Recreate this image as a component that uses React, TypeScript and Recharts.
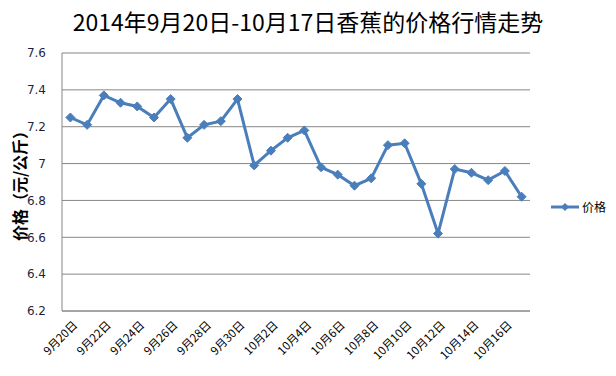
import React from "react";
import { LineChart, Line, XAxis, YAxis, CartesianGrid, Label } from "recharts";

// 日期（每天一个点）
const dates = [
  "9月20日", "9月21日", "9月22日", "9月23日", "9月24日", "9月25日", "9月26日",
  "9月27日", "9月28日", "9月29日", "9月30日", "10月1日", "10月2日", "10月3日",
  "10月4日", "10月5日", "10月6日", "10月7日", "10月8日", "10月9日", "10月10日",
  "10月11日", "10月12日", "10月13日", "10月14日", "10月15日", "10月16日", "10月17日",
];

// 香蕉价格（元/公斤）
const prices = [
  7.25, 7.21, 7.37, 7.33, 7.31, 7.25, 7.35, 7.14, 7.21, 7.23, 7.35, 6.99, 7.07, 7.14,
  7.18, 6.98, 6.94, 6.88, 6.92, 7.1, 7.11, 6.89, 6.62, 6.97, 6.95, 6.91, 6.96, 6.82,
];

const yTicks = [6.2, 6.4, 6.6, 6.8, 7, 7.2, 7.4, 7.6];

const BLUE = "#4a7ebb";
const GRID = "#868686";
const FONT = "'Noto Sans CJK SC', 'DejaVu Sans', sans-serif";

const data = dates.map((d, i) => ({ date: d, price: prices[i] }));

const Diamond = (props: any) => {
  const { cx, cy } = props;
  if (cx == null || cy == null) return null;
  const r = 4.5;
  return (
    <path
      d={`M${cx},${cy - r}L${cx + r},${cy}L${cx},${cy + r}L${cx - r},${cy}Z`}
      fill={BLUE}
      stroke={BLUE}
      strokeWidth={1}
    />
  );
};

const XTick = (props: any) => {
  const { x, y, payload } = props;
  return (
    <g transform={`translate(${x + 5},${y + 4})`}>
      <text
        textAnchor="end"
        transform="rotate(-45)"
        fontSize={11.5}
        fontFamily={FONT}
        fill="#000"
        dy={4}
      >
        {payload.value}
      </text>
    </g>
  );
};

export default function App() {
  return (
    <div style={{ position: "absolute", left: 0, top: 0, width: 616, height: 376, background: "#fff" }}>
      <div
        style={{
          position: "absolute",
          top: 5,
          left: 0,
          width: 616,
          textAlign: "center",
          fontFamily: FONT,
          fontSize: 23,
          lineHeight: "32px",
          color: "#000",
        }}
      >
        2014年9月20日-10月17日香蕉的价格行情走势
      </div>
      <LineChart
        width={616}
        height={376}
        data={data}
        margin={{ top: 53, right: 86, bottom: 0, left: 0 }}
      >
        <CartesianGrid vertical={false} stroke={GRID} strokeWidth={1} />
        <XAxis
          dataKey="date"
          interval={1}
          stroke={GRID}
          tickLine={false}
          tick={<XTick />}
          height={65}
          padding={{ left: 8.4, right: 8.4 }}
        />
        <YAxis
          domain={[6.2, 7.6]}
          ticks={yTicks}
          width={62}
          stroke={GRID}
          tickLine={false}
          tickMargin={10}
          tick={{ fontSize: 12, fill: "#1f1f3f", fontFamily: "'DejaVu Sans', sans-serif" }}
        >
          <Label
            angle={-90}
            position="insideLeft"
            offset={20}
            style={{ fontSize: 16, fontWeight: "bold", fill: "#000", fontFamily: FONT, textAnchor: "middle" }}
            value="价格（元/公斤）"
          />
        </YAxis>
        <Line
          dataKey="price"
          name="价格"
          stroke={BLUE}
          strokeWidth={3}
          dot={<Diamond />}
          activeDot={false}
          isAnimationActive={false}
        />
      </LineChart>
      <svg style={{ position: "absolute", left: 550, top: 197 }} width={62} height={20}>
        <line x1={1} y1={10} x2={29} y2={10} stroke={BLUE} strokeWidth={3} />
        <path d="M15,6L19,10L15,14L11,10Z" fill={BLUE} />
        <text x={32} y={14.5} fontSize={12} fontFamily={FONT} fill="#000">
          价格
        </text>
      </svg>
    </div>
  );
}
